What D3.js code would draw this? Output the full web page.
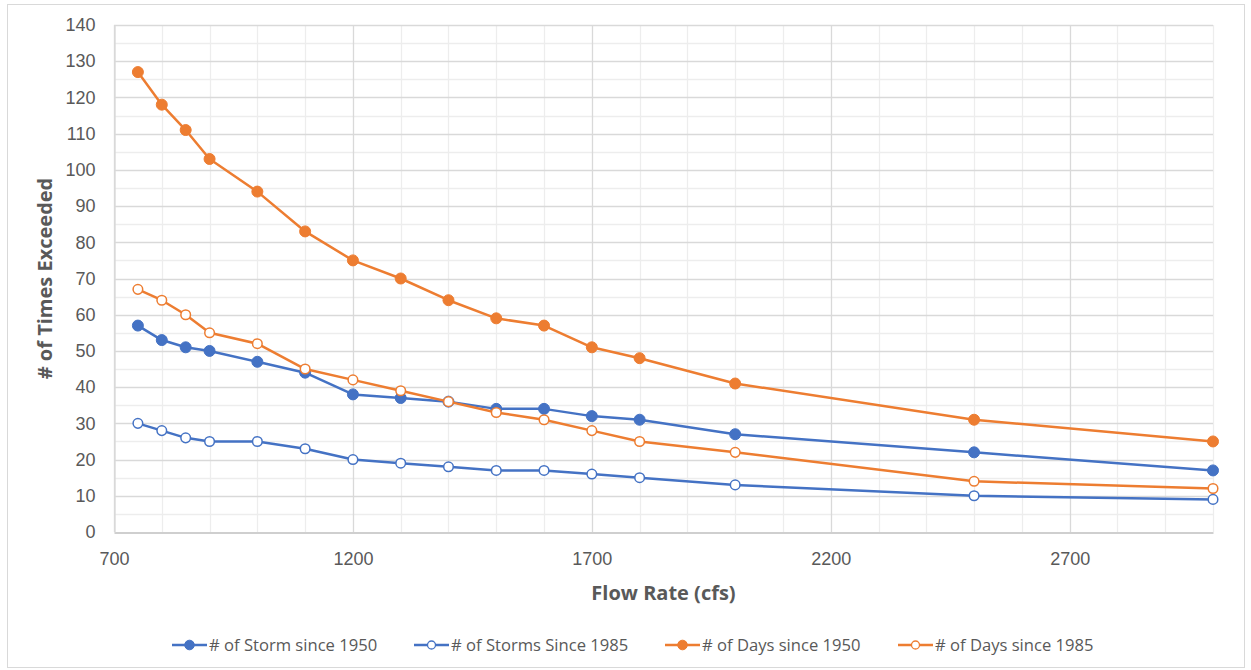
<!DOCTYPE html>
<html>
<head>
<meta charset="utf-8">
<script src="https://cdn.jsdelivr.net/npm/d3@7"></script>
<style>
  html, body { margin: 0; padding: 0; background: #fff; }
  svg { display: block; font-family: "Open Sans", Lato, "Liberation Sans", sans-serif; }
</style>
</head>
<body>
<svg id="chart" width="1251" height="670"></svg>
<script>
// Flow rate thresholds (cfs)
const flowRates = [750, 800, 850, 900, 1000, 1100, 1200, 1300, 1400, 1500, 1600, 1700, 1800, 2000, 2500, 3000];

// Counts of exceedance per threshold
const stormsSince1950 = [57, 53, 51, 50, 47, 44, 38, 37, 36, 34, 34, 32, 31, 27, 22, 17];
const stormsSince1985 = [30, 28, 26, 25, 25, 23, 20, 19, 18, 17, 17, 16, 15, 13, 10, 9];
const daysSince1950   = [127, 118, 111, 103, 94, 83, 75, 70, 64, 59, 57, 51, 48, 41, 31, 25];
const daysSince1985   = [67, 64, 60, 55, 52, 45, 42, 39, 36, 33, 31, 28, 25, 22, 14, 12];

const seriesNames = ["# of Storm since 1950", "# of Storms Since 1985", "# of Days since 1950", "# of Days since 1985"];
const xTickValues = [700, 1200, 1700, 2200, 2700];
const yTickValues = [0, 10, 20, 30, 40, 50, 60, 70, 80, 90, 100, 110, 120, 130, 140];

const blue = "#4472C4", orange = "#ED7D31";
const series = [
  { name: seriesNames[0], values: stormsSince1950, color: blue, filled: true },
  { name: seriesNames[1], values: stormsSince1985, color: blue, filled: false },
  { name: seriesNames[2], values: daysSince1950, color: orange, filled: true },
  { name: seriesNames[3], values: daysSince1985, color: orange, filled: false }
];

const svg = d3.select("#chart");
const plot = { left: 114, right: 1213, top: 25, bottom: 532 };

// chart frame
svg.append("rect")
  .attr("x", 7.5).attr("y", 4.5).attr("width", 1237).attr("height", 663)
  .attr("fill", "#fff").attr("stroke", "#d9d9d9").attr("stroke-width", 1);

const x = d3.scaleLinear().domain([700, 3000]).range([plot.left, plot.right]);
const y = d3.scaleLinear().domain([0, 140]).range([plot.bottom, plot.top]);

const grid = svg.append("g");
// minor grid
d3.range(700, 3001, 100).forEach(v => {
  if ((v - 700) % 500 === 0) return;
  grid.append("line")
    .attr("x1", Math.round(x(v)) + 0.5).attr("x2", Math.round(x(v)) + 0.5)
    .attr("y1", plot.top).attr("y2", plot.bottom)
    .attr("stroke", "#ededed").attr("stroke-width", 1.3);
});
d3.range(5, 141, 10).forEach(v => {
  grid.append("line")
    .attr("x1", plot.left).attr("x2", plot.right)
    .attr("y1", Math.round(y(v)) + 0.5).attr("y2", Math.round(y(v)) + 0.5)
    .attr("stroke", "#ededed").attr("stroke-width", 1.3);
});
// major grid
xTickValues.forEach(v => {
  grid.append("line")
    .attr("x1", Math.round(x(v)) + 0.5).attr("x2", Math.round(x(v)) + 0.5)
    .attr("y1", plot.top).attr("y2", plot.bottom)
    .attr("stroke", "#d9d9d9").attr("stroke-width", 1.3);
});
yTickValues.forEach(v => {
  if (v === 0) return;
  grid.append("line")
    .attr("x1", plot.left).attr("x2", plot.right)
    .attr("y1", Math.round(y(v)) + 0.5).attr("y2", Math.round(y(v)) + 0.5)
    .attr("stroke", "#d9d9d9").attr("stroke-width", 1.3);
});

// axes
const xAxis = svg.append("g")
  .attr("transform", `translate(0,${plot.bottom + 0.5})`)
  .call(d3.axisBottom(x).tickValues(xTickValues).tickSize(0).tickPadding(20).tickFormat(d3.format("d")));
xAxis.select(".domain").attr("stroke", "#bfbfbf").attr("stroke-width", 1.5);
xAxis.selectAll("text").attr("fill", "#595959").style("font-size", "18px");

const yAxis = svg.append("g")
  .attr("transform", `translate(${plot.left + 0.5},0)`)
  .call(d3.axisLeft(y).tickValues(yTickValues).tickSize(0).tickPadding(19));
yAxis.select(".domain").attr("stroke", "#d9d9d9").attr("stroke-width", 1.3);
yAxis.selectAll("text").attr("fill", "#595959").style("font-size", "18px");

// axis titles
svg.append("text")
  .attr("x", (plot.left + plot.right) / 2).attr("y", 600)
  .attr("text-anchor", "middle")
  .attr("fill", "#595959").style("font-size", "20px").style("font-weight", "bold")
  .text("Flow Rate (cfs)");

svg.append("text")
  .attr("transform", `translate(52,${(plot.top + plot.bottom) / 2}) rotate(-90)`)
  .attr("text-anchor", "middle")
  .attr("fill", "#595959").style("font-size", "20px").style("font-weight", "bold")
  .text("# of Times Exceeded");

// series lines and markers
const line = d3.line().x(d => x(d[0])).y(d => y(d[1]));
series.forEach(s => {
  const pts = flowRates.map((f, i) => [f, s.values[i]]);
  const g = svg.append("g");
  g.append("path").datum(pts)
    .attr("d", line).attr("fill", "none")
    .attr("stroke", s.color).attr("stroke-width", 2.5).attr("stroke-linejoin", "round");
  g.selectAll("circle").data(pts).enter().append("circle")
    .attr("cx", d => x(d[0])).attr("cy", d => y(d[1]))
    .attr("r", s.filled ? 5.5 : 4.8)
    .attr("fill", s.filled ? s.color : "#fff")
    .attr("stroke", s.color).attr("stroke-width", s.filled ? 1 : 1.5);
});

// legend
const legendX = [172, 414, 665, 898];
const legendY = 645;
series.forEach((s, i) => {
  const g = svg.append("g").attr("transform", `translate(${legendX[i]},${legendY})`);
  g.append("line").attr("x1", 0).attr("x2", 35).attr("y1", 0).attr("y2", 0)
    .attr("stroke", s.color).attr("stroke-width", 2.5);
  g.append("circle").attr("cx", 17.5).attr("cy", 0).attr("r", s.filled ? 4.8 : 4)
    .attr("fill", s.filled ? s.color : "#fff")
    .attr("stroke", s.color).attr("stroke-width", s.filled ? 1 : 1.3);
  g.append("text").attr("x", 37).attr("y", 0).attr("dy", "0.35em")
    .attr("fill", "#595959").style("font-size", "16.6px")
    .text(s.name);
});
</script>
</body>
</html>
